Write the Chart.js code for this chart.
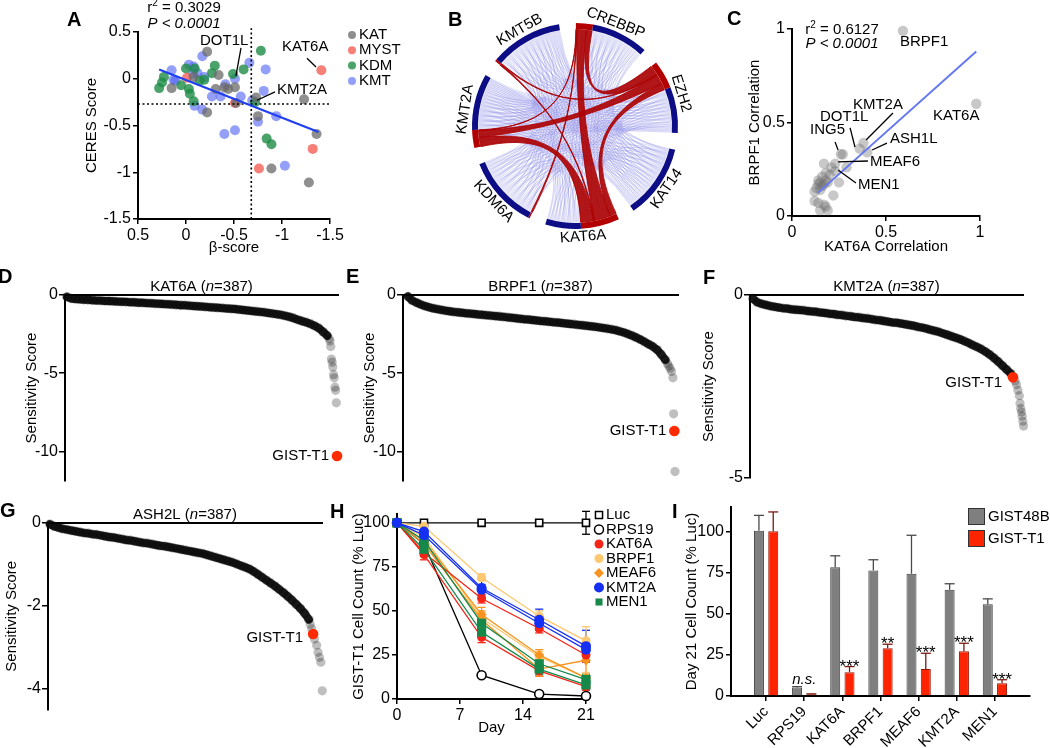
<!DOCTYPE html>
<html>
<head>
<meta charset="utf-8">
<title>Figure</title>
<script src="https://cdn.jsdelivr.net/npm/chart.js@4.4.1/dist/chart.umd.min.js"></script>
<style>
html,body{margin:0;padding:0;background:#fff;}
#wrap{position:relative;width:1050px;height:748px;overflow:hidden;background:#fff;}
#wrap canvas{position:absolute;left:0;top:0;}
</style>
</head>
<body>
<div id="wrap"></div>
<script>
/* ===================== DATA ===================== */
/* Panel A : beta-score vs CERES score */
const aSeries    = ['KAT','MYST','KDM','KMT'];
const aKatBeta   = [-0.22,-0.34,-0.40,-0.44,-0.51,0.15,-0.31,-0.22,-0.52,-0.73,-0.75,-1.23,-1.36,-0.89,-1.28,-0.08];
const aKatCeres  = [0.29,0.04,-0.09,-0.11,-0.09,-0.10,-0.11,-0.36,-0.26,-0.20,-0.40,-0.22,-0.59,-0.96,-1.11,0.02];
const aMystBeta  = [-1.41,-0.01,-0.51,-0.76,-1.32];
const aMystCeres = [0.09,0.01,-0.26,-0.96,-0.75];
const aKdmBeta   = [-0.78,-0.60,-0.49,-0.30,-0.27,-0.09,0.00,-0.19,-0.14,0.28,0.23,0.25,0.05,-0.03,-0.04,-0.08,-0.72,-0.84,-0.89];
const aKdmCeres  = [0.30,0.10,0.05,0.14,0.06,0.11,0.11,-0.01,-0.02,-0.10,0.02,-0.04,-0.07,-0.11,-0.16,-0.24,-0.25,-0.64,-0.70];
const aKmtBeta   = [-0.17,-0.66,-0.83,0.15,-0.03,-0.08,-0.07,-0.19,0.13,-0.41,-0.51,-0.36,-0.27,-0.57,-0.69,-0.81,-0.75,-0.94,-0.17,-0.09,-0.40,-0.51,-1.03,-0.12,0.11];
const aKmtCeres  = [0.24,0.17,0.10,0.09,0.15,0.13,0.05,0.02,-0.01,-0.06,0.00,-0.19,-0.19,-0.19,-0.23,-0.13,-0.46,-0.40,-0.33,-0.29,-0.59,-0.55,-0.93,0.06,-0.02];
const aFitBeta   = [0.28,-1.38];
const aFitCeres  = [0.10,-0.57];
const aBetaCut   = -0.68;
const aCeresCut  = -0.27;
const aTicks     = [0.5,0,-0.5,-1,-1.5];
const aR2 = '0.3029', aP = '0.0001';

/* Panel B : chord diagram */
const bGenes     = ['CREBBP','EZH2','KAT14','KAT6A','KDM6A','KMT2A','KMT5B'];
const bRedFrac   = [0.23,0.38,0,0.52,0.02,0.24,0.03];
const bBlueLinks = [
  ['CREBBP','EZH2',6],['CREBBP','KAT14',14],['CREBBP','KAT6A',8],['CREBBP','KDM6A',12],['CREBBP','KMT2A',12],['CREBBP','KMT5B',8],
  ['EZH2','KAT14',6],['EZH2','KAT6A',12],['EZH2','KDM6A',14],['EZH2','KMT2A',20],['EZH2','KMT5B',12],
  ['KAT14','KAT6A',6],['KAT14','KDM6A',12],['KAT14','KMT2A',20],['KAT14','KMT5B',16],
  ['KAT6A','KDM6A',8],['KAT6A','KMT2A',12],['KAT6A','KMT5B',12],
  ['KDM6A','KMT2A',8],['KDM6A','KMT5B',10],['KMT2A','KMT5B',8]
];
const bRedLinks  = [
  ['CREBBP','KAT6A',5],['CREBBP','EZH2',3],['EZH2','KAT6A',2],['KMT2A','KAT6A',4],['KMT2A','EZH2',3],
  ['KMT5B','EZH2',0.3],['KMT5B','KAT6A',0.3],['KMT2A','CREBBP',0.3],['KDM6A','CREBBP',0.3]
];

/* Panel C : KAT6A vs BRPF1 correlation */
const cKat6a = [0.59,0.98,0.38,0.36,0.40,0.27,0.26,0.23,0.17,0.29,0.23,0.20,0.18,0.16,0.15,0.14,0.17,0.13,0.15,0.12,0.19,0.25,0.22,0.14,0.17,0.18,0.19,0.15,0.12,0.18,0.16,0.14,0.21];
const cBrpf1 = [0.99,0.60,0.39,0.36,0.34,0.33,0.33,0.28,0.28,0.26,0.24,0.22,0.23,0.21,0.18,0.17,0.17,0.15,0.14,0.13,0.18,0.18,0.11,0.07,0.06,0.05,0.03,0.03,0.08,0.19,0.16,0.19,0.26];
const cFitKat6a = [0.14,0.98];
const cFitBrpf1 = [0.125,0.88];
const cTicks = [0,0.5,1];
const cR2 = '0.6127', cP = '0.0001';

/* Panels D-G : ranked sensitivity scores (n = 387) */
const rankN = 387;
const sampleRanks = [1,7,13,19,25,31,37,43,49,55,61,67,73,79,85,91,97,103,109,115,121,127,133,139,145,151,157,163,169,175,181,187,193,199,205,211,217,223,229,235,241,247,253,259,265,271,277,283,289,295,301,307,313,319,325,331,337,343,349,355,361,367,373];
const dCurve = [-0.12,-0.22,-0.26,-0.28,-0.30,-0.31,-0.33,-0.35,-0.36,-0.38,-0.39,-0.40,-0.42,-0.43,-0.44,-0.46,-0.47,-0.49,-0.50,-0.52,-0.53,-0.55,-0.56,-0.58,-0.59,-0.61,-0.63,-0.65,-0.66,-0.68,-0.70,-0.72,-0.74,-0.76,-0.78,-0.80,-0.82,-0.84,-0.86,-0.88,-0.90,-0.93,-0.96,-0.99,-1.02,-1.05,-1.08,-1.11,-1.15,-1.19,-1.23,-1.27,-1.33,-1.40,-1.48,-1.58,-1.67,-1.75,-1.85,-1.97,-2.12,-2.35,-2.60];
const dTailRanks = [376,377,378,379,380,381,382,383,384,385,386];
const dTail      = [-2.8,-2.95,-3.3,-4.1,-4.3,-4.6,-5.1,-5.3,-5.9,-6.1,-6.9];
const dGist      = [387,-10.3];
const eCurve = [-0.10,-0.35,-0.48,-0.60,-0.70,-0.78,-0.85,-0.90,-0.95,-1.00,-1.04,-1.08,-1.11,-1.14,-1.17,-1.19,-1.22,-1.25,-1.27,-1.30,-1.32,-1.35,-1.37,-1.40,-1.43,-1.46,-1.49,-1.52,-1.55,-1.57,-1.60,-1.63,-1.66,-1.68,-1.71,-1.74,-1.76,-1.79,-1.82,-1.85,-1.88,-1.91,-1.94,-1.97,-2.00,-2.03,-2.07,-2.11,-2.15,-2.20,-2.25,-2.32,-2.40,-2.50,-2.60,-2.72,-2.85,-3.00,-3.15,-3.30,-3.50,-3.80,-4.15];
const eTailRanks = [376,378,380,382,384,385,387];
const eTail      = [-4.4,-4.55,-4.7,-4.9,-5.3,-7.6,-11.3];
const eGist      = [386,-8.7];
const fCurve = [-0.10,-0.20,-0.24,-0.27,-0.30,-0.32,-0.34,-0.36,-0.37,-0.39,-0.40,-0.41,-0.42,-0.44,-0.45,-0.46,-0.48,-0.49,-0.51,-0.52,-0.54,-0.55,-0.57,-0.58,-0.60,-0.61,-0.63,-0.64,-0.66,-0.68,-0.69,-0.71,-0.73,-0.75,-0.76,-0.78,-0.80,-0.82,-0.84,-0.87,-0.89,-0.92,-0.95,-0.98,-1.01,-1.05,-1.09,-1.13,-1.17,-1.21,-1.26,-1.31,-1.37,-1.42,-1.48,-1.55,-1.63,-1.72,-1.82,-1.93,-2.04,-2.15];
const fTailRanks = [373,375,377,379,380,381,382,383,384,385,386,387];
const fTail      = [-2.35,-2.45,-2.6,-2.75,-2.96,-3.1,-3.2,-3.31,-3.45,-3.58,-3.75,-4.72];
const fGist      = [370,-2.25];
const gCurve = [-0.03,-0.08,-0.11,-0.14,-0.16,-0.18,-0.20,-0.22,-0.24,-0.25,-0.27,-0.28,-0.30,-0.32,-0.34,-0.35,-0.37,-0.39,-0.41,-0.42,-0.44,-0.46,-0.48,-0.49,-0.51,-0.53,-0.55,-0.56,-0.58,-0.60,-0.62,-0.64,-0.66,-0.68,-0.70,-0.72,-0.74,-0.77,-0.80,-0.83,-0.86,-0.89,-0.92,-0.95,-0.99,-1.03,-1.07,-1.11,-1.17,-1.24,-1.31,-1.38,-1.45,-1.52,-1.60,-1.68,-1.77,-1.86,-1.96,-2.06,-2.18,-2.33];
const gTailRanks = [369,371,375,378,380,382,384,386,387];
const gTail      = [-2.45,-2.55,-2.8,-2.95,-3.12,-3.24,-3.36,-4.05,-4.5];
const gGist      = [373,-2.68];

/* Panel H : GIST-T1 growth (% Luc) */
const hDays       = [0,3,9.4,15.8,21];
const hLuc        = [100,100,100,100,100];   const hLucErr    = [0,1.5,0,0,6.5];
const hRps19      = [100,88,13.5,2.8,1.7];   const hRps19Err  = [0,0,0.8,0.5,0.5];
const hKat6aA     = [100,83,57,40,25];       const hKat6aAErr = [0,2,2.5,2.5,4];
const hKat6aB     = [100,82,35,16,7];        const hKat6aBErr = [0,3,3,3,2];
const hBrpf1A     = [100,98,69,47,33];       const hBrpf1AErr = [0,2,2,3,8];
const hBrpf1B     = [100,92,46,24,12];       const hBrpf1BErr = [0,2,3,3,3];
const hMeaf6A     = [100,90,48,25,12];       const hMeaf6AErr = [0,2,4,3,3];
const hMeaf6B     = [100,88,45,17,22];       const hMeaf6BErr = [0,2,5,4,11];
const hKmt2aA     = [100,95,63,45,30];       const hKmt2aAErr = [0,3,5,6,9];
const hKmt2aB     = [100,93,62,43,28];       const hKmt2aBErr = [0,2,3,4,6];
const hMen1A      = [100,90,43,20,11];       const hMen1AErr  = [0,2,3,4,3];
const hMen1B      = [100,85,38,17,8];        const hMen1BErr  = [0,2,3,3,3];
const hLegend     = ['Luc','RPS19','KAT6A','BRPF1','MEAF6','KMT2A','MEN1'];
const hXTicks = [0,7,14,21];
const hYTicks = [0,25,50,75,100];

/* Panel I : day 21 cell count */
const iCats       = ['Luc','RPS19','KAT6A','BRPF1','MEAF6','KMT2A','MEN1'];
const iSeries     = ['GIST48B','GIST-T1'];
const iGist48b    = [100.5,5.2,78.4,76.4,74.4,64.6,55.9];
const iGist48bErr = [9.4,0.5,6.9,6.5,23.4,3.7,3.2];
const iGistT1     = [100.3,1.0,14.5,29.0,16.5,27.2,7.8];
const iGistT1Err  = [11.7,0.3,3.4,2.5,9.5,4.9,2.1];
const iSig        = ['','n.s.','***','**','***','***','***'];
const iYTicks = [0,25,50,75,100];

/* ===================== HELPERS ===================== */
const FONT = "'Liberation Sans', Arial, Helvetica, sans-serif";
Chart.defaults.font.family = FONT;
Chart.defaults.font.size = 15;
Chart.defaults.color = '#000';
Chart.defaults.animation = false;
Chart.defaults.responsive = false;
Chart.defaults.devicePixelRatio = 1;
Chart.defaults.events = [];
Chart.defaults.plugins.legend.display = false;
Chart.defaults.plugins.tooltip.enabled = false;

const PW = 1050, PH = 748;
const wrap = document.getElementById('wrap');
function newCanvas(){ const c=document.createElement('canvas'); c.width=PW; c.height=PH; c.style.width=PW+'px'; c.style.height=PH+'px'; wrap.appendChild(c); return c; }
function padFor(area, yW, xBottomH, xTopH){ return {left: area.l - yW, right: PW - area.r, top: area.t - xTopH, bottom: PH - area.b - xBottomH}; }
function fnt(size, style){ return (style ? style + ' ' : '') + size + 'px ' + FONT; }
function txt(ctx, s, x, y, o){ o=o||{}; ctx.save(); ctx.font=fnt(o.size||15,o.style||''); ctx.fillStyle=o.color||'#000'; ctx.textAlign=o.align||'left'; ctx.textBaseline=o.base||'middle'; if(o.rot){ctx.translate(x,y);ctx.rotate(o.rot);ctx.fillText(s,0,0);} else ctx.fillText(s,x,y); ctx.restore(); }
function seg(ctx,x1,y1,x2,y2,color,w){ ctx.save(); ctx.strokeStyle=color||'#000'; ctx.lineWidth=w||1.2; ctx.beginPath(); ctx.moveTo(x1,y1); ctx.lineTo(x2,y2); ctx.stroke(); ctx.restore(); }
function measure(ctx,s,size,style){ ctx.save(); ctx.font=fnt(size,style||''); const w=ctx.measureText(s).width; ctx.restore(); return w; }
function stats(ctx,cx,y1,y2,r2,p){
  const w1=measure(ctx,'r',15), w2=measure(ctx,'2',10), w3=measure(ctx,' = '+r2,15);
  const x=cx-(w1+w2+w3)/2;
  txt(ctx,'r',x,y1); txt(ctx,'2',x+w1,y1-5,{size:10}); txt(ctx,' = '+r2,x+w1+w2,y1);
  txt(ctx,'P < '+p,cx,y2,{style:'italic',align:'center'});
}
function marker(ctx,style,x,y,r,fill,stroke,lw){
  ctx.save(); ctx.beginPath();
  if(style==='rect'){ const s=r*Math.SQRT1_2; ctx.rect(x-s,y-s,2*s,2*s); }
  else if(style==='rectRot'){ ctx.moveTo(x,y-r); ctx.lineTo(x+r,y); ctx.lineTo(x,y+r); ctx.lineTo(x-r,y); ctx.closePath(); }
  else ctx.arc(x,y,r,0,Math.PI*2);
  if(fill){ctx.fillStyle=fill; ctx.fill();}
  if(stroke){ctx.strokeStyle=stroke; ctx.lineWidth=lw||1.5; ctx.stroke();}
  ctx.restore();
}
function axis(o){
  return {
    type:'linear', position:o.pos, min:o.min, max:o.max, reverse:!!o.reverse,
    afterBuildTicks: s => { s.ticks = (o.ticks||[]).map(v => ({value:v})); },
    afterFit: s => { if (s.isHorizontal()) s.height = o.size; else s.width = o.size; },
    ticks:{display:!!o.ticks, padding:(o.tickPad!==undefined?o.tickPad:2), color:'#000', font:{size:o.tickSize||16}, autoSkip:false,
           maxRotation:o.rot||0, minRotation:o.rot||0, callback:o.fmt || (v => String(v))},
    grid:{display:!!o.ticks, drawOnChartArea:false, drawTicks:true, tickLength:(o.tickLen!==undefined?o.tickLen:5), color:'#000', lineWidth:1.5, offset:false},
    border:{display:true, color:'#000', width:2},
    title: o.title ? {display:true, text:o.title, padding:0, color:'#000', font:{size:15}} : {display:false}
  };
}
const pts = (xs, ys) => xs.map((x,i) => ({x, y: ys[i]}));

/* ===================== PANEL A ===================== */
const aColors = ['rgba(105,105,105,0.75)','rgba(245,105,95,0.85)','rgba(30,140,70,0.8)','rgba(80,100,245,0.62)'];
const aData = [[aKatBeta,aKatCeres],[aMystBeta,aMystCeres],[aKdmBeta,aKdmCeres],[aKmtBeta,aKmtCeres]];
const aNotes = [
  {t:'DOT1L', x:-0.146, y:0.41,  x1:-0.573, y1:0.33,  x2:-0.52,  y2:0.03},
  {t:'KAT6A', x:-1.0,   y:0.337, x1:-1.26,  y1:0.22,  x2:-1.354, y2:0.125},
  {t:'KMT2A', x:-0.948, y:-0.12, x1:-0.927, y1:-0.14, x2:-0.74,  y2:-0.23}
];
const aArea = {l:138,t:32,r:330,b:219};
new Chart(newCanvas(), {
  type:'scatter',
  data:{datasets:[
    {data:pts(aFitBeta,aFitCeres), showLine:true, borderColor:'#1f3ff0', borderWidth:2.2, pointRadius:0, clip:false},
    {data:[{x:aBetaCut,y:aTicks[aTicks.length-1]},{x:aBetaCut,y:aTicks[0]+0.04}], showLine:true, borderColor:'#000', borderWidth:1.6, borderDash:[2,2.5], pointRadius:0, clip:false},
    {data:[{x:aTicks[0],y:aCeresCut},{x:aTicks[aTicks.length-1],y:aCeresCut}], showLine:true, borderColor:'#000', borderWidth:1.6, borderDash:[2,2.5], pointRadius:0, clip:false},
    ...aData.map((d,i)=>({data:pts(d[0],d[1]), pointRadius:5, pointBackgroundColor:aColors[i], pointBorderWidth:0, clip:false}))
  ]},
  options:{
    layout:{padding:padFor(aArea,55,38,0)},
    scales:{
      x: axis({pos:'bottom', min:-1.5, max:0.5, reverse:true, ticks:aTicks, size:38, title:'β-score'}),
      y: axis({pos:'left', min:-1.5, max:0.5, ticks:aTicks, size:55, title:'CERES Score'})
    }
  },
  plugins:[{id:'aText', afterDraw(ch){
    const c=ch.ctx, X=ch.scales.x, Y=ch.scales.y, A=ch.chartArea;
    stats(c, A.left+46, A.top-24, A.top-8.5, aR2, aP);
    aNotes.forEach(n=>{
      txt(c,n.t,X.getPixelForValue(n.x),Y.getPixelForValue(n.y));
      seg(c,X.getPixelForValue(n.x1),Y.getPixelForValue(n.y1),X.getPixelForValue(n.x2),Y.getPixelForValue(n.y2),'#000',1.3);
    });
    aSeries.forEach((s,i)=>{ const lx=A.right+22, ly=A.top+3+15.3*i; marker(c,'circle',lx,ly,4,aColors[i]); txt(c,s,lx+7,ly); });
  }}]
});

/* ===================== PANEL B ===================== */
const bArea = {l:472,t:23,r:678,b:229};
const bArc = 42, bGap = 360/7 - 42;
const bVals = [], bCols = [];
bGenes.forEach((g,i)=>{ bVals.push(bArc*bRedFrac[i], bArc*(1-bRedFrac[i]), bGap); bCols.push('#b30000','#0d0d85','rgba(0,0,0,0)'); });
new Chart(newCanvas(), {
  type:'doughnut',
  data:{labels:bVals.map((v,i)=>String(i)), datasets:[{data:bVals, backgroundColor:bCols, borderWidth:0}]},
  options:{rotation:0.5, cutout:97, layout:{padding:padFor(bArea,0,0,0)}},
  plugins:[{id:'chords',
    beforeDatasetsDraw(ch){
      const arcs=ch.getDatasetMeta(0).data, c=ch.ctx;
      const cx=arcs[0].x, cy=arcs[0].y, r=arcs[0].innerRadius-0.5;
      const gs=g=>arcs[3*g].startAngle, ge=g=>arcs[3*g+1].endAngle, re=g=>arcs[3*g].endAngle;
      const idx=n=>bGenes.indexOf(n);
      const P=a=>[cx+r*Math.cos(a), cy+r*Math.sin(a)];
      const C=(a,k)=>[cx+r*k*Math.cos(a), cy+r*k*Math.sin(a)];
      const K=0.3;
      const pos = bBlueLinks.map(()=>({}));
      bGenes.forEach((g,gi)=>{
        const ls = bBlueLinks.map((L,li)=>{ const a=idx(L[0]), b=idx(L[1]); return {li, other: a===gi?b:(b===gi?a:-1), n:L[2]}; })
          .filter(o=>o.other>=0).sort((p,q)=>((q.other-gi+7)%7)-((p.other-gi+7)%7));
        const cnt=ls.map(()=>0), total=ls.reduce((s,o)=>s+o.n,0), order=[];
        while(order.length<total){ ls.forEach((o,j)=>{ if(cnt[j]<o.n){ order.push({li:o.li,k:cnt[j]}); cnt[j]++; } }); }
        const a0=gs(gi), a1=ge(gi);
        order.forEach((e,m)=>{ (pos[e.li][gi]=pos[e.li][gi]||[])[e.k] = a0+(a1-a0)*(m+0.5)/order.length; });
      });
      c.save(); c.strokeStyle='rgba(130,130,228,0.38)'; c.lineWidth=0.8;
      bBlueLinks.forEach((L,li)=>{
        const A=idx(L[0]), B=idx(L[1]), n=L[2];
        for(let k=0;k<n;k++){
          const pa=pos[li][A][k], pb=pos[li][B][n-1-k];
          const p1=P(pa), p2=P(pb);
          c.beginPath(); c.moveTo(p1[0],p1[1]); c.quadraticCurveTo(cx,cy,p2[0],p2[1]); c.stroke();
        }
      });
      c.restore();
      const span = bRedLinks.map(()=>({}));
      bGenes.forEach((g,gi)=>{
        const ls = bRedLinks.map((L,li)=>{ const a=idx(L[0]), b=idx(L[1]); return {li, other:a===gi?b:(b===gi?a:-1), w:L[2]}; })
          .filter(o=>o.other>=0).sort((p,q)=>((q.other-gi+7)%7)-((p.other-gi+7)%7));
        const W=ls.reduce((s,o)=>s+o.w,0); let cum=0;
        const s0=gs(gi), s1=re(gi);
        ls.forEach(o=>{ span[o.li][gi]=[s0+(s1-s0)*cum/W, s0+(s1-s0)*(cum+o.w)/W]; cum+=o.w; });
      });
      c.save(); c.fillStyle='rgba(172,0,0,0.9)'; c.strokeStyle='rgba(172,0,0,0.95)'; c.lineWidth=0.9;
      bRedLinks.forEach((L,li)=>{
        const A=idx(L[0]), B=idx(L[1]);
        const [a0,a1]=span[li][A], [b0,b1]=span[li][B];
        const pa0=P(a0), pb0=P(b0);
        c.beginPath(); c.moveTo(pa0[0],pa0[1]);
        c.arc(cx,cy,r,a0,a1);
        let q1=C(a1,K), q2=C(b0,K); c.bezierCurveTo(q1[0],q1[1],q2[0],q2[1],pb0[0],pb0[1]);
        c.arc(cx,cy,r,b0,b1);
        q1=C(b1,K); q2=C(a0,K); c.bezierCurveTo(q1[0],q1[1],q2[0],q2[1],pa0[0],pa0[1]);
        c.closePath(); c.fill(); c.stroke();
      });
      c.restore();
    },
    afterDatasetsDraw(ch){
      const arcs=ch.getDatasetMeta(0).data, c=ch.ctx;
      const cx=arcs[0].x, cy=arcs[0].y, R=arcs[0].outerRadius+8;
      bGenes.forEach((g,gi)=>{
        const m=(arcs[3*gi].startAngle+arcs[3*gi+1].endAngle)/2;
        const x=cx+R*Math.cos(m), y=cy+R*Math.sin(m);
        const rot = Math.sin(m)>0.05 ? m-Math.PI/2 : m+Math.PI/2;
        txt(c,g,x,y,{align:'center',rot:rot});
      });
    }
  }]
});

/* ===================== PANEL C ===================== */
const cNotes = [
  {t:'BRPF1', x:0.574, y:0.93},
  {t:'KAT6A', x:0.75,  y:0.535},
  {t:'KMT2A', x:0.324, y:0.594, x1:0.537, y1:0.551, x2:0.394, y2:0.406},
  {t:'DOT1L', x:0.149, y:0.529, x1:0.309, y1:0.471, x2:0.335, y2:0.369},
  {t:'ING5',  x:0.096, y:0.46,  x1:0.229, y1:0.396, x2:0.245, y2:0.353},
  {t:'ASH1L', x:0.521, y:0.412, x1:0.505, y1:0.39,  x2:0.426, y2:0.353},
  {t:'MEAF6', x:0.415, y:0.289, x1:0.404, y1:0.294, x2:0.245, y2:0.289},
  {t:'MEN1',  x:0.351, y:0.166, x1:0.34,  y1:0.176, x2:0.245, y2:0.246}
];
const cArea = {l:792,t:29,r:980,b:216};
new Chart(newCanvas(), {
  type:'scatter',
  data:{datasets:[
    {data:pts(cFitKat6a,cFitBrpf1), showLine:true, borderColor:'#6577f2', borderWidth:2, pointRadius:0, clip:false},
    {data:pts(cKat6a,cBrpf1), pointRadius:5.2, pointBackgroundColor:'rgba(110,110,110,0.38)', pointBorderWidth:0, clip:false}
  ]},
  options:{
    layout:{padding:padFor(cArea,46,40,0)},
    scales:{
      x: axis({pos:'bottom', min:0, max:1, ticks:cTicks, size:40, title:'KAT6A Correlation'}),
      y: axis({pos:'left', min:0, max:1, ticks:cTicks, size:46, title:'BRPF1 Correlation'})
    }
  },
  plugins:[{id:'cText', afterDraw(ch){
    const c=ch.ctx, X=ch.scales.x, Y=ch.scales.y, A=ch.chartArea;
    stats(c, A.left+50, A.top+1, A.top+15, cR2, cP);
    cNotes.forEach(n=>{
      txt(c,n.t,X.getPixelForValue(n.x),Y.getPixelForValue(n.y));
      if(n.x1!==undefined) seg(c,X.getPixelForValue(n.x1),Y.getPixelForValue(n.y1),X.getPixelForValue(n.x2),Y.getPixelForValue(n.y2),'#000',1.3);
    });
  }}]
});

/* ===================== PANELS D-G ===================== */
function rankChart(o){
  new Chart(newCanvas(), {
    type:'scatter',
    data:{datasets:[
      {data:[{x:o.gist[0],y:o.gist[1]}], pointRadius:5.3, pointBackgroundColor:'#ff2a00', pointBorderWidth:0, clip:false},
      {data:pts(o.tailR,o.tail), pointRadius:4.6, pointBackgroundColor:'rgba(0,0,0,0.25)', pointBorderWidth:0, clip:false},
      {data:o.curve.map((y,i)=>({x:sampleRanks[i], y})), showLine:true, borderColor:'rgba(12,12,12,0.9)', borderWidth:8, borderCapStyle:'round', borderJoinStyle:'round',
       pointRadius:4.8, pointBackgroundColor:'rgba(0,0,0,0.35)', pointBorderWidth:0, clip:false}
    ]},
    options:{
      layout:{padding:padFor(o.area,o.yW,0,0)},
      scales:{
        x:{type:'linear', position:'top', min:o.xMin, max:o.xMax, ticks:{display:false}, grid:{display:false}, border:{display:true,color:'#000',width:2}, afterFit:s=>{s.height=0;}},
        y: axis({pos:'left', min:o.yMin, max:0, ticks:o.yTicks, size:o.yW, title:'Sensitivity Score', tickLen:6, tickPad:1})
      }
    },
    plugins:[{id:'rt', afterDraw(ch){
      const c=ch.ctx, A=ch.chartArea, X=ch.scales.x, Y=ch.scales.y;
      const p1=o.gene+' (', p2='n', p3='='+rankN+')';
      const w1=measure(c,p1,15), w2=measure(c,p2,15,'italic'), w3=measure(c,p3,15);
      const x=(A.left+A.right)/2-(w1+w2+w3)/2, y=A.top-4.5;
      txt(c,p1,x,y,{base:'alphabetic'}); txt(c,p2,x+w1,y,{base:'alphabetic',style:'italic'}); txt(c,p3,x+w1+w2,y,{base:'alphabetic'});
      txt(c,'GIST-T1',X.getPixelForValue(o.gist[0])-o.ldx, Y.getPixelForValue(o.gist[1])+o.ldy, {align:'right'});
    }}]
  });
}
rankChart({gene:'KAT6A', area:{l:65,t:295,r:338,b:481}, yW:42, xMin:-1.86, xMax:388.4, yMin:-11.9, yTicks:[0,-5,-10], curve:dCurve, tailR:dTailRanks, tail:dTail, gist:dGist, ldx:8, ldy:0});
rankChart({gene:'BRPF1', area:{l:403,t:295,r:678,b:481}, yW:42, xMin:-6.2, xMax:391.3, yMin:-11.9, yTicks:[0,-5,-10], curve:eCurve, tailR:eTailRanks, tail:eTail, gist:eGist, ldx:8, ldy:0});
rankChart({gene:'KMT2A', area:{l:750,t:295,r:1023,b:478}, yW:50, xMin:-3.26, xMax:384.2, yMin:-5, yTicks:[0,-5], curve:fCurve, tailR:fTailRanks, tail:fTail, gist:fGist, ldx:11, ldy:6});
rankChart({gene:'ASH2L', area:{l:48,t:523,r:322,b:709.5}, yW:45, xMin:-1.83, xMax:385.6, yMin:-4.5, yTicks:[0,-2,-4], curve:gCurve, tailR:gTailRanks, tail:gTail, gist:gGist, ldx:10, ldy:4});

/* ===================== PANEL H ===================== */
const hStyle = {
  Luc:  {color:'#000000', point:'rect',    r:5,   fill:'#ffffff'},
  RPS19:{color:'#000000', point:'circle',  r:4.5, fill:'#ffffff'},
  KAT6A:{color:'#f42416', point:'circle',  r:4.5},
  BRPF1:{color:'#fdc870', point:'circle',  r:4.5},
  MEAF6:{color:'#f7931e', point:'rectRot', r:5},
  KMT2A:{color:'#1530f2', point:'circle',  r:5},
  MEN1: {color:'#16894a', point:'rect',    r:6.5}
};
const hCurves = [
  ['KMT2A',hKmt2aA,hKmt2aAErr],['KMT2A',hKmt2aB,hKmt2aBErr],
  ['MEN1',hMen1A,hMen1AErr],['MEN1',hMen1B,hMen1BErr],
  ['KAT6A',hKat6aA,hKat6aAErr],['KAT6A',hKat6aB,hKat6aBErr],
  ['MEAF6',hMeaf6A,hMeaf6AErr],['MEAF6',hMeaf6B,hMeaf6BErr],
  ['BRPF1',hBrpf1A,hBrpf1AErr],['BRPF1',hBrpf1B,hBrpf1BErr],
  ['RPS19',hRps19,hRps19Err],['Luc',hLuc,hLucErr]
];
const hArea = {l:397,t:514,r:586,b:699};
new Chart(newCanvas(), {
  type:'scatter',
  data:{datasets:hCurves.map(([k,v])=>{ const s=hStyle[k]; return {
    data:pts(hDays,v), showLine:true, borderColor:s.color, borderWidth:1.3, pointStyle:s.point, pointRadius:s.r,
    pointBackgroundColor:s.fill||s.color, pointBorderColor:s.color, pointBorderWidth:s.fill?1.6:0, clip:false}; })},
  options:{
    layout:{padding:padFor(hArea,47,38,0)},
    scales:{
      x: axis({pos:'bottom', min:0, max:21, ticks:hXTicks, size:38, title:'Day'}),
      y: axis({pos:'left', min:0, max:105, ticks:hYTicks, size:47, title:'GIST-T1 Cell Count (% Luc)'})
    }
  },
  plugins:[{id:'hExtra',
    beforeDatasetsDraw(ch){
      const c=ch.ctx, X=ch.scales.x, Y=ch.scales.y;
      hCurves.forEach(([k,v,e])=>{ const col=hStyle[k].color;
        v.forEach((val,i)=>{ if(!e[i]) return; const x=X.getPixelForValue(hDays[i]);
          const y1=Y.getPixelForValue(val-e[i]), y2=Y.getPixelForValue(val+e[i]);
          seg(c,x,y1,x,y2,col,1.3); seg(c,x-4,y1,x+4,y1,col,1.3); seg(c,x-4,y2,x+4,y2,col,1.3); });
      });
    },
    afterDraw(ch){
      const c=ch.ctx, A=ch.chartArea;
      hLegend.forEach((k,i)=>{ const s=hStyle[k], lx=A.right+13, ly=A.top+1+14.5*i;
        marker(c,s.point,lx,ly,Math.min(s.r,5),s.fill||s.color,s.fill?s.color:null,1.5);
        txt(c,k,lx+7,ly); });
    }
  }]
});

/* ===================== PANEL I ===================== */
const iArea = {l:731,t:507,r:1030,b:696};
const iColors = [{fill:'#7f7f7f',line:'#404040',err:'#4a4a4a'},{fill:'#ff2400',line:'#9a1200',err:'#7a1a10'}];
const iVals = [iGist48b,iGistT1], iErrs = [iGist48bErr,iGistT1Err];
new Chart(newCanvas(), {
  type:'bar',
  data:{datasets:iVals.map((v,d)=>({label:iSeries[d], data:v.map((y,i)=>({x:i,y})), backgroundColor:iColors[d].fill, borderColor:iColors[d].line, borderWidth:1, categoryPercentage:0.75, barPercentage:0.7}))},
  options:{
    layout:{padding:padFor(iArea,48,52,0)},
    scales:{
      x: axis({pos:'bottom', min:-0.36, max:6.36, ticks:iCats.map((c,i)=>i), size:52, rot:45, tickSize:15, fmt:v=>iCats[v]}),
      y: axis({pos:'left', min:0, max:115, ticks:iYTicks, size:48, title:'Day 21 Cell Count (% Luc)'})
    }
  },
  plugins:[{id:'iExtra', afterDatasetsDraw(ch){
    const c=ch.ctx, X=ch.scales.x, Y=ch.scales.y, A=ch.chartArea;
    [0,1].forEach(d=>{ ch.getDatasetMeta(d).data.forEach((b,i)=>{
      const yt=Y.getPixelForValue(iVals[d][i]+iErrs[d][i]);
      seg(c,b.x,b.y,b.x,yt,iColors[d].err,1.3); seg(c,b.x-5,yt,b.x+5,yt,iColors[d].err,1.3); }); });
    iSig.forEach((s,i)=>{ if(!s) return;
      if(s==='n.s.'){ const top=Math.max(iGist48b[i]+iGist48bErr[i], iGistT1[i]+iGistT1Err[i]);
        txt(c,s,X.getPixelForValue(i),Y.getPixelForValue(top)-7,{style:'italic',align:'center'}); }
      else { const b=ch.getDatasetMeta(1).data[i]; txt(c,s,b.x,Y.getPixelForValue(iGistT1[i]+iGistT1Err[i])+5,{align:'center',base:'alphabetic',size:17}); }
    });
    iSeries.forEach((s,d)=>{ const lx=A.right-62, ly=A.top+1+22*d;
      c.save(); c.fillStyle=iColors[d].fill; c.strokeStyle='#333'; c.lineWidth=1; c.fillRect(lx,ly,17,17); c.strokeRect(lx+0.5,ly+0.5,16,16); c.restore();
      txt(c,s,lx+20,ly+9,{size:15}); });
  }}]
});

/* ===================== PANEL LETTERS ===================== */
(function(){
  const cv=newCanvas(), c=cv.getContext('2d');
  [['A',67,20.5],['B',448,20],['C',727,19.5],['D',-2,277],['E',346,277],['F',703,278],['G',0,511],['H',330,512],['I',672,512]]
    .forEach(([s,x,y])=>txt(c,s,x,y,{size:20,style:'bold'}));
})();
</script>
</body>
</html>
